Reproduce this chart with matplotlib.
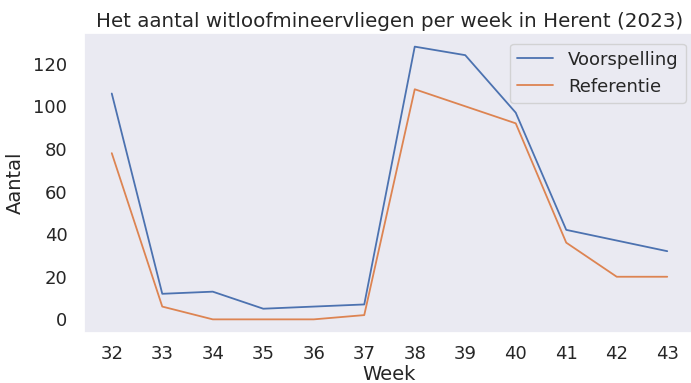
import matplotlib
matplotlib.use("Agg")
import matplotlib.pyplot as plt
import seaborn as sns

# weekly counts of chicory leaf miner flies in Herent, 2023
weeks = [32, 33, 34, 35, 36, 37, 38, 39, 40, 41, 42, 43]
voorspelling = [106, 12, 13, 5, 6, 7, 128, 124, 97, 42, 37, 32]
referentie = [78, 6, 0, 0, 0, 2, 108, 100, 92, 36, 20, 20]

sns.set_theme(style="dark")

fig = plt.figure(figsize=(6.91, 3.83), dpi=100)
ax = fig.add_axes([84 / 691, 50 / 383, 611 / 691, 300 / 383])

ax.plot(weeks, voorspelling, label="Voorspelling", linewidth=1.3)
ax.plot(weeks, referentie, label="Referentie", linewidth=1.3)

ax.set_xticks(weeks)
ax.tick_params(axis="x", labelsize=13, pad=2.5)
ax.tick_params(axis="y", labelsize=13, pad=6)
ax.set_xlabel("Week", fontsize=14, labelpad=1.5)
ax.set_ylabel("Aantal", fontsize=14, labelpad=6)
ax.set_title("Het aantal witloofmineervliegen per week in Herent (2023)", fontsize=14.3, pad=4)
ax.legend(loc="upper right", fontsize=13, bbox_to_anchor=(0.9995, 0.995), borderaxespad=0.5)

fig.savefig("out.png", dpi=100)
